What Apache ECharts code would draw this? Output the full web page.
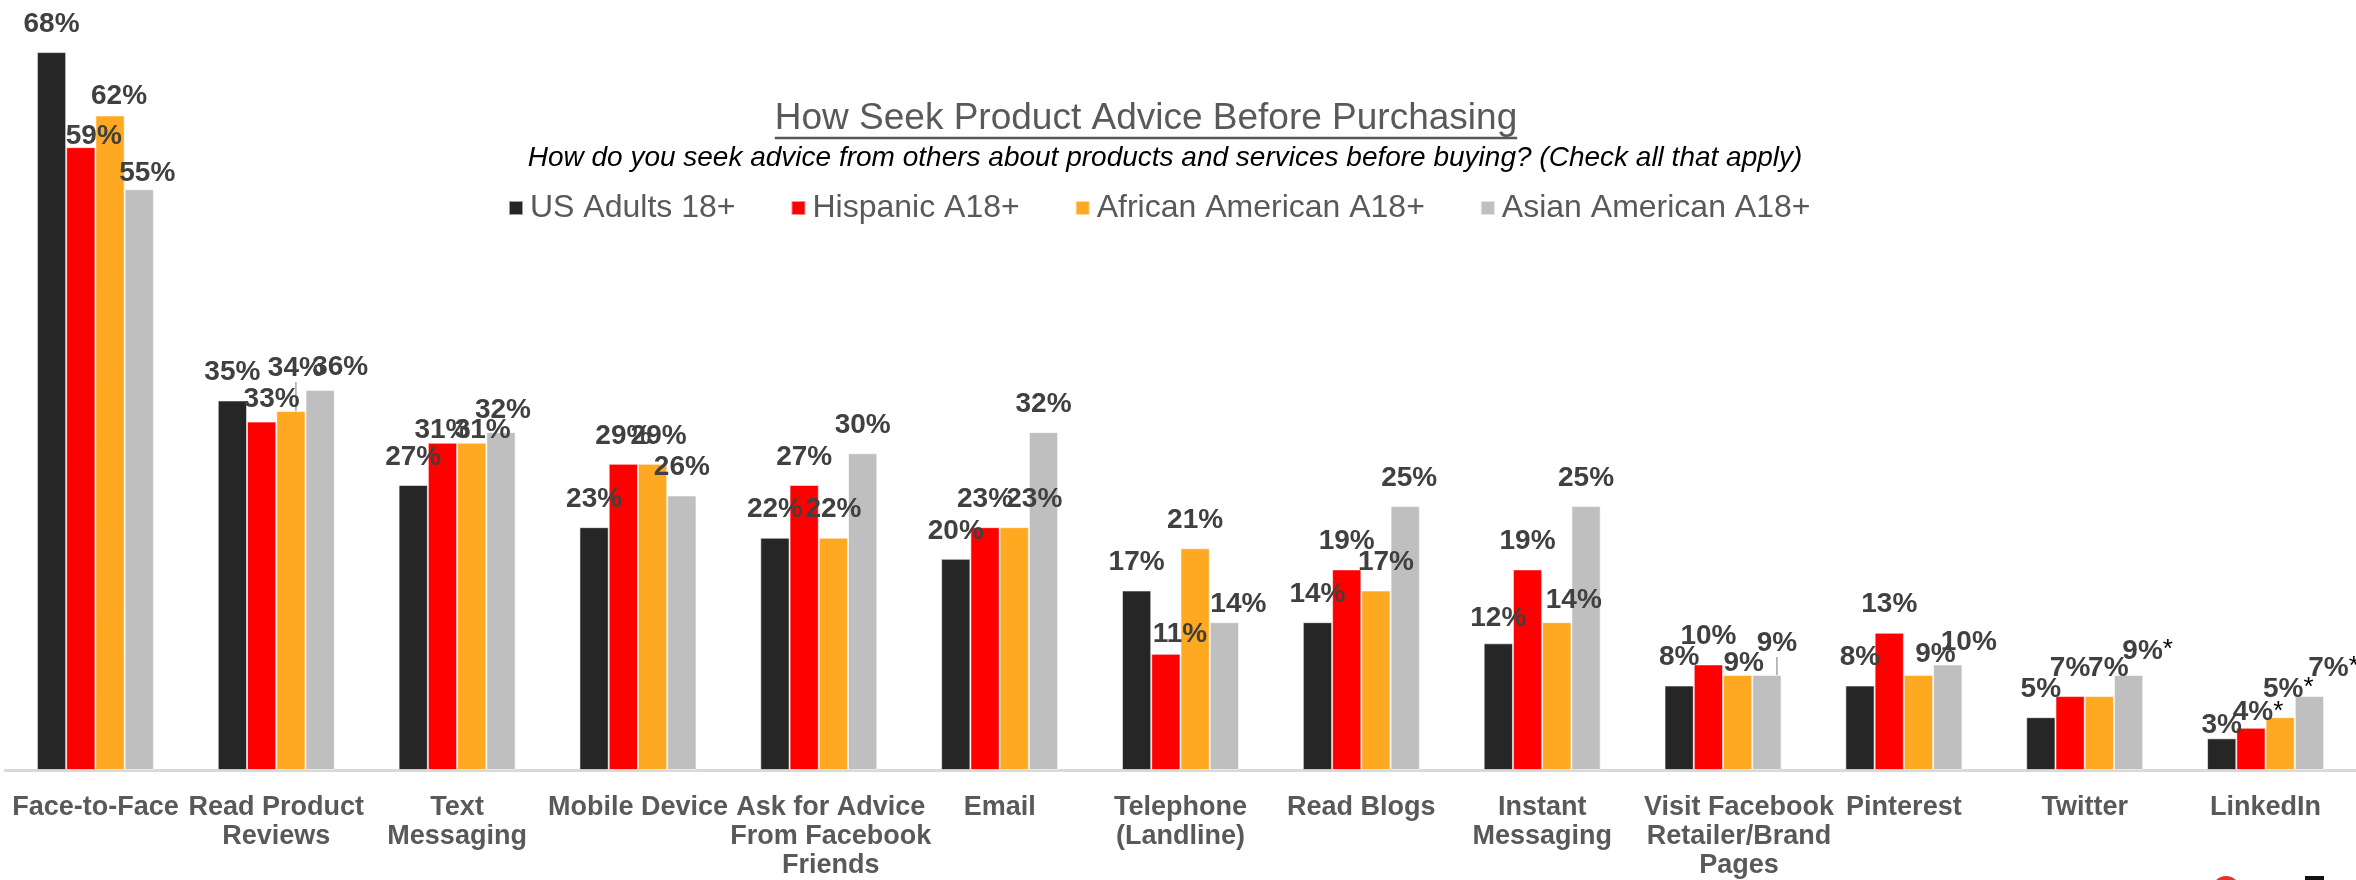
<!DOCTYPE html>
<html>
<head>
<meta charset="utf-8">
<title>How Seek Product Advice Before Purchasing</title>
<script src="https://cdn.jsdelivr.net/npm/echarts@6/dist/echarts.min.js"></script>
<style>
  html, body { margin: 0; padding: 0; background: #ffffff; }
  #chart { width: 2356px; height: 880px; }
</style>
</head>
<body>
<div id="chart"></div>
<script>
// ---- data ----
const categories = [
  'Face-to-Face',
  'Read Product\nReviews',
  'Text\nMessaging',
  'Mobile Device',
  'Ask for Advice\nFrom Facebook\nFriends',
  'Email',
  'Telephone\n(Landline)',
  'Read Blogs',
  'Instant\nMessaging',
  'Visit Facebook\nRetailer/Brand\nPages',
  'Pinterest',
  'Twitter',
  'LinkedIn'
];
const seriesNames = ['US Adults 18+', 'Hispanic A18+', 'African American A18+', 'Asian American A18+'];
const usAdults        = [68, 35, 27, 23, 22, 20, 17, 14, 12, 8, 8, 5, 3];
const hispanic        = [59, 33, 31, 29, 27, 23, 11, 19, 19, 10, 13, 7, 4];
const africanAmerican = [62, 34, 31, 29, 22, 23, 21, 17, 14, 9, 9, 7, 5];
const asianAmerican   = [55, 36, 32, 26, 30, 32, 14, 25, 25, 9, 10, 9, 7];
// category indexes whose value carries an asterisk (small base)
const flaggedHispanic = [12];
const flaggedAfrican  = [12];
const flaggedAsian    = [11, 12];

const TITLE = 'How Seek Product Advice Before Purchasing';
const SUBTITLE = 'How do you seek advice from others about products and services before buying? (Check all that apply)';

// ---- styling ----
const FONT = '"Liberation Sans", Arial, Helvetica, sans-serif';
const colors = ['#262626', '#FF0000', '#FFA922', '#BFBFBF'];
const seriesValues = [usAdults, hispanic, africanAmerican, asianAmerican];
const seriesFlags = [[], flaggedHispanic, flaggedAfrican, flaggedAsian];

// hand-placed label offsets [dx, dy] keyed by category index, one map per series
const labelNudge = [
  { 8: [0, 3], 12: [0, 15] },
  { 0: [13, 17], 1: [10, 6], 2: [0, 16], 6: [14, 8], 12: [2, 13] },
  { 0: [9, 9], 1: [5, -15], 2: [11, 16], 3: [6, 0], 5: [20, 0], 7: [10, 0], 8: [17, 6],
    9: [6, 16], 10: [17, 7], 11: [9, 0], 12: [3, 0] },
  { 0: [8, 12], 1: [20, 5], 2: [2, 6], 6: [14, 10], 7: [4, 0], 9: [10, -4], 10: [21, 6],
    11: [14, 4], 12: [19, 0] }
];
// labels pulled away from their bar get a thin leader line
const leaderLines = [[], [], [1], [9]];
const ASTERISK_SHIFT = 5;
// the two three-line axis labels sit a little right of their category centre
const axisLabelShift = { 4: 24, 9: 32 };

const chart = echarts.init(document.getElementById('chart'), null, { renderer: 'canvas' });

function measure(text, font) {
  const c = document.createElement('canvas').getContext('2d');
  c.font = font;
  return c.measureText(text).width;
}

const titleX = 1146, titleY = 119;
const titleFont = '37px ' + FONT;
const titleW = measure(TITLE, titleFont);

const series = seriesNames.map((name, s) => ({
  name: name,
  type: 'bar',
  barGap: '0%',
  barCategoryGap: '35.3%',
  itemStyle: { color: colors[s], borderColor: 'rgba(255,255,255,0.55)', borderWidth: 1 },
  data: seriesValues[s].map((v, i) => leaderLines[s].indexOf(i) >= 0
    ? { value: v, labelLine: { show: true, lineStyle: { color: '#A6A6A6', width: 1.5 } } }
    : v),
  label: {
    show: true,
    position: 'top',
    distance: 14,
    formatter: p => '{v|' + p.value + '%}' + (seriesFlags[s].indexOf(p.dataIndex) >= 0 ? '{s|*}' : ''),
    rich: {
      v: { fontFamily: FONT, fontSize: 28, fontWeight: 'bold', color: '#404040', verticalAlign: 'bottom' },
      s: { fontFamily: FONT, fontSize: 26, color: '#000000', verticalAlign: 'top' }
    }
  },
  labelLine: { show: false },
  labelLayout: p => {
    const n = labelNudge[s][p.dataIndex] || [0, 0];
    const extra = seriesFlags[s].indexOf(p.dataIndex) >= 0 ? ASTERISK_SHIFT : 0;
    return { dx: n[0] + extra, dy: n[1] };
  }
}));

const axisData = categories.map((c, i) => axisLabelShift[i]
  ? { value: c, textStyle: { padding: [0, 0, 0, axisLabelShift[i]] } }
  : c);

chart.setOption({
  animation: false,
  backgroundColor: '#ffffff',
  textStyle: { fontFamily: FONT },
  color: colors,
  grid: { left: 5, right: 0, top: 31, bottom: 105, containLabel: false },
  legend: {
    data: seriesNames,
    left: 503,
    top: 187,
    icon: 'rect',
    itemWidth: 14,
    itemHeight: 14,
    itemGap: 55,
    textStyle: { fontFamily: FONT, fontSize: 32, color: '#595959', padding: [0, 0, 0, 2] }
  },
  xAxis: {
    type: 'category',
    data: axisData,
    axisLine: { lineStyle: { color: '#D9D9D9', width: 3 } },
    axisTick: { show: false },
    axisLabel: {
      interval: 0,
      margin: 23,
      fontFamily: FONT,
      fontSize: 27,
      fontWeight: 'bold',
      color: '#595959',
      lineHeight: 29
    }
  },
  yAxis: {
    type: 'value',
    min: 0,
    max: 70,
    show: false,
    splitLine: { show: false }
  },
  graphic: [
    {
      type: 'text',
      x: titleX, y: titleY,
      style: { text: TITLE, font: titleFont, fill: '#595959', align: 'center', verticalAlign: 'middle' }
    },
    {
      type: 'line',
      shape: { x1: titleX - titleW / 2, y1: 138, x2: titleX + titleW / 2, y2: 138 },
      style: { stroke: '#595959', lineWidth: 2.5 }
    },
    {
      type: 'text',
      x: 1165, y: 158,
      style: { text: SUBTITLE, font: 'italic 28px ' + FONT, fill: '#000000', align: 'center', verticalAlign: 'middle' }
    },
    {
      type: 'circle',
      shape: { cx: 2226, cy: 890, r: 14 },
      style: { fill: '#E8312A' }
    },
    {
      type: 'rect',
      shape: { x: 2305, y: 876, width: 19, height: 10 },
      style: { fill: '#111111' }
    }
  ],
  series: series
});
</script>
</body>
</html>
